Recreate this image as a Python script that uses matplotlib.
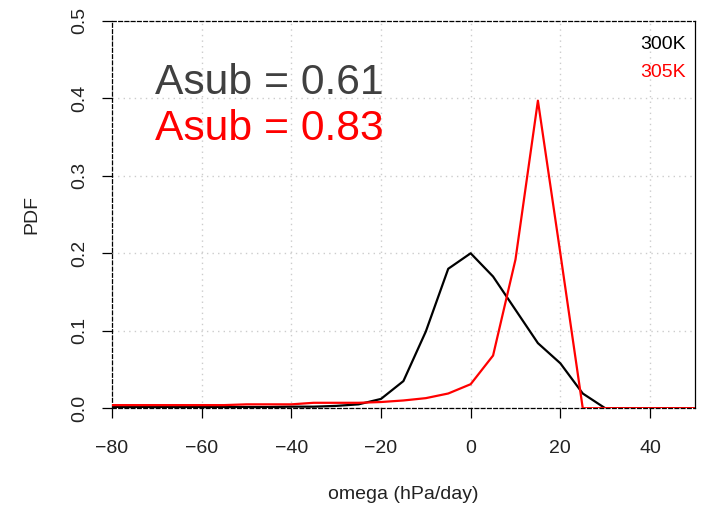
import numpy as np
import matplotlib
matplotlib.use("Agg")
import matplotlib.pyplot as plt

plt.rcParams['font.family'] = ['Liberation Sans', 'DejaVu Sans']

# omega bins (hPa/day) and PDF values
omega = [-80, -75, -70, -65, -60, -55, -50, -45, -40, -35, -30, -25, -20,
         -15, -10, -5, 0, 5, 10, 15, 20, 25, 30, 35, 40, 45, 50]
pdf_300 = [0.0015, 0.0015, 0.0015, 0.0015, 0.0015, 0.0015, 0.0015, 0.0015,
           0.002, 0.002, 0.003, 0.005, 0.012, 0.035, 0.099, 0.18, 0.2, 0.17,
           0.127, 0.084, 0.058, 0.019, 0.0, 0.0, 0.0, 0.0, 0.0]
pdf_305 = [0.004, 0.004, 0.004, 0.004, 0.004, 0.004, 0.005, 0.005, 0.005,
           0.007, 0.007, 0.007, 0.008, 0.01, 0.013, 0.019, 0.031, 0.068,
           0.192, 0.397, 0.2, 0.0, 0.0, 0.0, 0.0, 0.0, 0.0]
labels = ["300K", "305K"]
asub = [0.61, 0.83]
xticks = [-80, -60, -40, -20, 0, 20, 40]
yticks = [0.0, 0.1, 0.2, 0.3, 0.4, 0.5]

fig = plt.figure(figsize=(7.04, 5.09), dpi=100)
ax = fig.add_axes([0.159, 0.198, 0.828, 0.761])

# grid
for xt in xticks:
    ax.axvline(xt, color='#cccccc', linestyle=(0, (1, 3)), linewidth=1, zorder=0)
for yt in yticks:
    ax.axhline(yt, color='#cccccc', linestyle=(0, (1, 3)), linewidth=1, zorder=0)

ax.plot(omega, pdf_300, color='black', linewidth=1.6, zorder=3)
ax.plot(omega, pdf_305, color='#ff0000', linewidth=1.6, zorder=3)

ax.set_xlim(-80, 50)
ax.set_ylim(0, 0.5)

for side in ['left', 'top', 'bottom']:
    ax.spines[side].set_linestyle((0, (3, 2)))
    ax.spines[side].set_linewidth(0.9)
ax.spines['right'].set_linewidth(0.9)

ax.set_xticks(xticks)
ax.set_xticklabels([str(v).replace('-', '\u2212') for v in xticks])
ax.set_yticks(yticks)
ax.set_yticklabels(["%.1f" % v for v in yticks], rotation=90, va='center')
ax.tick_params(axis='both', length=7, width=0.9, labelsize=14,
               labelcolor='#222222')
ax.tick_params(axis='x', pad=16)
ax.tick_params(axis='y', pad=10)

ax.set_xlabel("omega (hPa/day)", fontsize=14, color='#222222', labelpad=21)
ax.set_ylabel("PDF", fontsize=14, color='#222222', labelpad=22)

# legend text in the corner
ax.text(0.985, 0.94, labels[0], transform=ax.transAxes, ha='right', va='center',
        fontsize=14, color='black')
ax.text(0.985, 0.866, labels[1], transform=ax.transAxes, ha='right', va='center',
        fontsize=14, color='#ff0000')

ax.text(-70.4, 0.42, "Asub = %.2f" % asub[0], fontsize=30.7, color='#404040',
        ha='left', va='center')
ax.text(-70.4, 0.36, "Asub = %.2f" % asub[1], fontsize=30.7, color='#ff0000',
        ha='left', va='center')

fig.savefig("out.png", dpi=100)
